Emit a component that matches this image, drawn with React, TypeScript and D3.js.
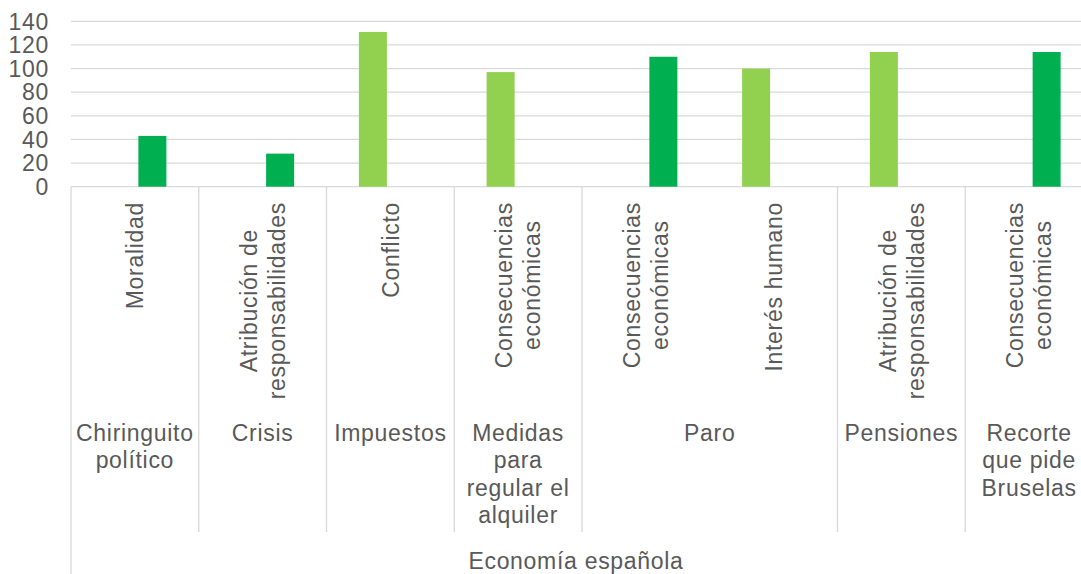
import React from "react";
import * as d3 from "d3";

const leafLabels: string[][] = [
  ["Moralidad"],
  ["Atribución de", "responsabilidades"],
  ["Conflicto"],
  ["Consecuencias", "económicas"],
  ["Consecuencias", "económicas"],
  ["Interés humano"],
  ["Atribución de", "responsabilidades"],
  ["Consecuencias", "económicas"],
];
const groupLabels: string[][] = [
  ["Chiringuito", "político"],
  ["Crisis"],
  ["Impuestos"],
  ["Medidas", "para", "regular el", "alquiler"],
  ["Paro"],
  ["Pensiones"],
  ["Recorte", "que pide", "Bruselas"],
];
const groupSizes: number[] = [1, 1, 1, 1, 2, 1, 1];
const topLabel = "Economía española";
const seriesNames = ["light", "dark"];
const lightValues: (number | null)[] = [null, null, 131, 97, null, 100, 114, null];
const darkValues: (number | null)[] = [43, 28, null, null, 110, null, null, 114];
const yTicks = [0, 20, 40, 60, 80, 100, 120, 140];

const W = 1081;
const H = 574;
const FONT = "'Liberation Sans', Arial, sans-serif";
const FS = 23;
const LS = 0.7;
const TXT = "#595959";
const GRID = "#d9d9d9";
const colors: Record<string, string> = { light: "#92D050", dark: "#00B050" };

let ctx: CanvasRenderingContext2D | null = null;
function measure(s: string): number {
  if (!ctx) {
    const c = document.createElement("canvas");
    ctx = c.getContext("2d");
  }
  if (!ctx) return s.length * FS * 0.5;
  ctx.font = `${FS}px 'Liberation Sans'`;
  return ctx.measureText(s).width + s.length * LS;
}

export default function App() {
  const left = 71;
  const right = 1093;
  const y0 = 186.7;
  const yTop = 21.3;
  const idx = leafLabels.map((_, i) => String(i));
  const x = d3.scaleBand<string>().domain(idx).range([left, right]).padding(0);
  const xi = d3
    .scaleBand<string>()
    .domain(seriesNames)
    .range([-x.bandwidth() * 0.274, x.bandwidth() * 0.274])
    .paddingInner(0.2)
    .paddingOuter(0.1);
  const y = d3.scaleLinear().domain([0, 140]).range([y0, yTop]);

  const seriesData: Record<string, (number | null)[]> = { light: lightValues, dark: darkValues };

  const bounds: number[] = [0];
  groupSizes.forEach((s) => bounds.push(bounds[bounds.length - 1] + s));
  const step = x.step();
  const bx = (k: number) => left + k * step;

  const labelTop = 202;
  const lineH = 28;
  const groupBase = 441;
  const groupLH = 27.3;

  return (
    <svg
      width={W}
      height={H}
      style={{ position: "absolute", left: 0, top: 0, background: "#fff" }}
      fontFamily={FONT}
    >
      {yTicks.map((t) => (
        <line key={"g" + t} x1={left} x2={W} y1={y(t)} y2={y(t)} stroke={GRID} strokeWidth={1.3} />
      ))}
      {yTicks.map((t) => (
        <text
          key={"t" + t}
          x={49}
          y={y(t)}
          dy="0.36em"
          textAnchor="end"
          fontSize={FS}
          fill={TXT}
          letterSpacing={LS}
        >
          {t}
        </text>
      ))}
      {seriesNames.map((s) =>
        seriesData[s].map((v, i) =>
          v == null ? null : (
            <rect
              key={s + i}
              x={(x(String(i)) as number) + x.bandwidth() / 2 + (xi(s) as number)}
              y={y(v)}
              width={xi.bandwidth()}
              height={y(0) - y(v)}
              fill={colors[s]}
            />
          )
        )
      )}
      {bounds.map((b, k) => (
        <line
          key={"d" + k}
          x1={bx(b)}
          x2={bx(b)}
          y1={y0}
          y2={k === 0 || k === bounds.length - 1 ? H : 532}
          stroke={GRID}
          strokeWidth={1.3}
        />
      ))}
      {leafLabels.map((lines, i) => {
        const cx = (x(String(i)) as number) + x.bandwidth() / 2;
        const maxW = d3.max(lines, (l) => measure(l)) || 0;
        const cy = labelTop + maxW / 2;
        const n = lines.length;
        return (
          <g key={"l" + i}>
            {lines.map((l, j) => (
              <text
                key={j}
                transform={`translate(${cx + (j - (n - 1) / 2) * lineH},${cy}) rotate(-90)`}
                dy="0.36em"
                textAnchor="middle"
                fontSize={FS}
                fill={TXT}
                letterSpacing={LS}
              >
                {l}
              </text>
            ))}
          </g>
        );
      })}
      {groupLabels.map((lines, k) => {
        const cx = (bx(bounds[k]) + bx(bounds[k + 1])) / 2;
        return (
          <g key={"gl" + k}>
            {lines.map((l, j) => (
              <text
                key={j}
                x={cx}
                y={groupBase + j * groupLH}
                textAnchor="middle"
                fontSize={FS}
                fill={TXT}
                letterSpacing={LS}
              >
                {l}
              </text>
            ))}
          </g>
        );
      })}
      <text
        x={(left + W) / 2}
        y={569}
        textAnchor="middle"
        fontSize={FS}
        fill={TXT}
        letterSpacing={LS}
      >
        {topLabel}
      </text>
    </svg>
  );
}
